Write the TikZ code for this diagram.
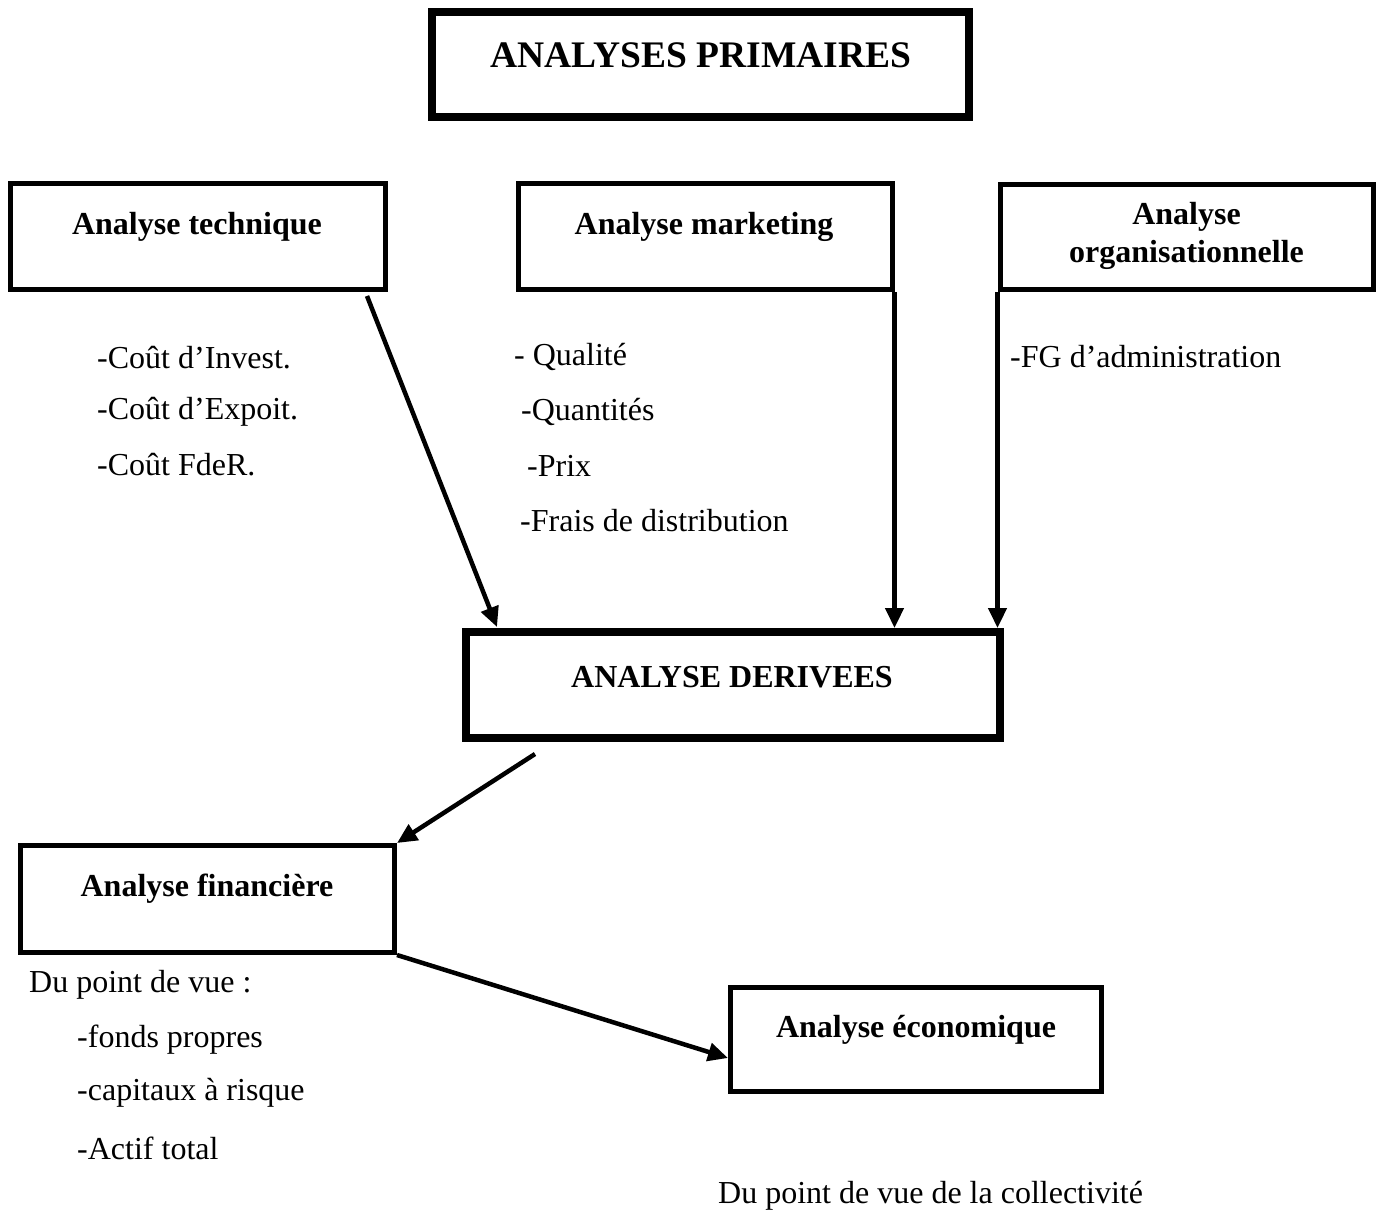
\documentclass[tikz,border=0pt]{standalone}
\usepackage{fontspec}
\setmainfont{Liberation Serif}
\usetikzlibrary{arrows.meta,calc}
\begin{document}
\begin{tikzpicture}[x=1pt,y=-1pt,
  box/.style={draw,line width=5pt,rectangle,inner sep=0pt},
  bigbox/.style={draw,line width=8pt,rectangle,inner sep=0pt},
  hd/.style={font=\fontsize{32}{38}\selectfont\bfseries,align=center,inner sep=0pt},
  ttl/.style={font=\fontsize{37.5}{44}\selectfont\bfseries,inner sep=0pt},
  txt/.style={font=\fontsize{32}{38}\selectfont,anchor=west,inner sep=0pt},
  arr/.style={line width=4.5pt,-{Triangle[length=20pt,width=18pt]}}]
\useasboundingbox (0,0) rectangle (1376,1218);
% boxes
\node[bigbox,minimum width=537pt,minimum height=105pt] (prim) at (700.5,64.5) {};
\node[ttl] at (701,55) {ANALYSES PRIMAIRES};
\node[box,minimum width=375pt,minimum height=106pt] (tech) at (198,236.5) {};
\node[hd] at (197,227) {Analyse technique};
\node[box,minimum width=374pt,minimum height=106pt] (mkt) at (705,236.5) {};
\node[hd] at (704,227) {Analyse marketing};
\node[box,minimum width=373pt,minimum height=105pt] (org) at (1186.5,236.5) {};
\node[hd] at (1186.5,236) {Analyse\\organisationnelle};
\node[bigbox,minimum width=534pt,minimum height=106pt] (der) at (733,685) {};
\node[hd] at (732,677) {ANALYSE DERIVEES};
\node[box,minimum width=374pt,minimum height=107pt] (fin) at (207.5,899) {};
\node[hd] at (207,889) {Analyse financière};
\node[box,minimum width=371pt,minimum height=104pt] (eco) at (916,1039.5) {};
\node[hd] at (916,1030) {Analyse économique};
% texts
\node[txt] (t1) at (97,358) {-Coût d’Invest.};
\node[txt] (t2) at (97,412) {-Coût d’Expoit.};
\node[txt] (t3) at (97,465) {-Coût FdeR.};
\node[txt] (m1) at (514,357) {- Qualité};
\node[txt] (m2) at (521,412) {-Quantités};
\node[txt] (m3) at (527,466) {-Prix};
\node[txt] (m4) at (520,521) {-Frais de distribution};
\node[txt] (o1) at (1010,357) {-FG d’administration};
\node[txt] (f0) at (29,985) {Du point de vue :};
\node[txt] (f1) at (77,1040) {-fonds propres};
\node[txt] (f2) at (77,1093) {-capitaux à risque};
\node[txt] (f3) at (77,1148) {-Actif total};
\node[txt] (e1) at (718,1196) {Du point de vue de la collectivité};
% connectors
\coordinate (a1s) at (367,296);
\coordinate (a1e) at (497,627);
\draw[arr] (a1s) -- (a1e);
\draw[arr] (mkt.south east) -- (mkt.south east |- der.north);
\draw[arr] (org.south west) -- (org.south west |- der.north);
\coordinate (a2s) at (535,754);
\draw[arr] (a2s) -- (fin.north east);
\coordinate (a3e) at (728,1058);
\draw[arr] (fin.south east) -- (a3e);
\end{tikzpicture}
\end{document}
